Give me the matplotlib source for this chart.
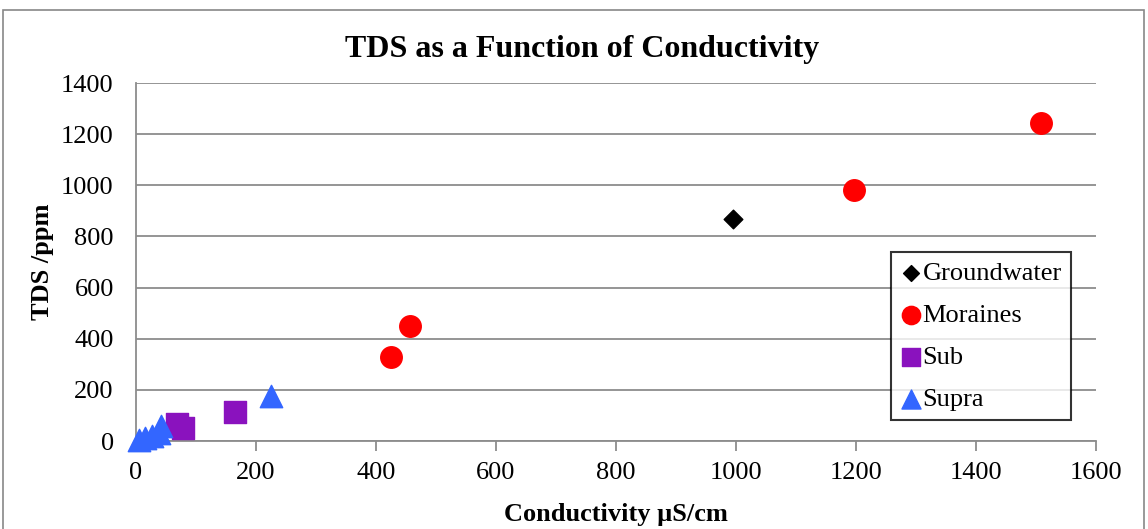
import matplotlib.pyplot as plt
from matplotlib.patches import Rectangle

plt.rcParams['font.family'] = ['Liberation Serif', 'DejaVu Serif']

# conductivity (uS/cm) and TDS (ppm) per sample group
gw_x = [995]
gw_y = [870]
mor_x = [425, 457, 1197, 1508]
mor_y = [330, 450, 982, 1242]
sub_x = [68, 78, 165]
sub_y = [65, 50, 113]
supra_x = [5, 15, 27, 38, 42, 225]
supra_y = [5, 10, 20, 30, 60, 175]

fig = plt.figure(figsize=(11.48, 5.29), dpi=100)
fig.patches.append(Rectangle((3 / 1148, -0.05), 1141 / 1148, 1.05 - 10 / 529,
                             transform=fig.transFigure, fill=False,
                             edgecolor='#888888', linewidth=1.2))
ax = fig.add_axes([136 / 1148, 1 - 441 / 529, 960 / 1148, 358 / 529])

ax.scatter(gw_x, gw_y, marker='D', s=90, color='black', label='Groundwater', zorder=3)
ax.scatter(mor_x, mor_y, marker='o', s=240, color='#ff0000', label='Moraines', zorder=3)
ax.scatter(sub_x, sub_y, marker='s', s=250, color='#8a12be', label='Sub', zorder=3)
ax.scatter(supra_x, supra_y, marker='^', s=260, color='#3366ff', label='Supra', zorder=4,
           clip_on=False)

ax.set_xlim(0, 1600)
ax.set_ylim(0, 1400)
ax.set_xticks(range(0, 1601, 200))
ax.set_yticks(range(0, 1401, 200))
ax.yaxis.grid(True, color='#8c8c8c', linewidth=1.3)
ax.set_axisbelow(True)
for s in ['top', 'right']:
    ax.spines[s].set_visible(False)
for s in ['left', 'bottom']:
    ax.spines[s].set_color('#8c8c8c')
    ax.spines[s].set_linewidth(1.3)
ax.tick_params(axis='x', direction='out', length=7, color='#8c8c8c', width=1.3,
               labelsize=19, pad=8)
ax.tick_params(axis='y', direction='out', length=0, labelsize=19, pad=16)

fig.text(582 / 1148, 1 - 50 / 529, 'TDS as a Function of Conductivity',
         fontsize=23, fontweight='bold', ha='center', va='center')
ax.set_xlabel('Conductivity µS/cm', fontsize=19, fontweight='bold', labelpad=14)
ax.set_ylabel('TDS /ppm', fontsize=19, fontweight='bold', labelpad=5)

leg = ax.legend(loc='upper left', bbox_to_anchor=(755 / 960, (441 - 252) / 358),
                fontsize=19, frameon=True, fancybox=False, edgecolor='black',
                handletextpad=0.0, handlelength=0.85, borderpad=0.35,
                labelspacing=0.7, markerscale=0.85, borderaxespad=0)
leg.get_frame().set_linewidth(1.5)

fig.savefig('out.png', dpi=100)
